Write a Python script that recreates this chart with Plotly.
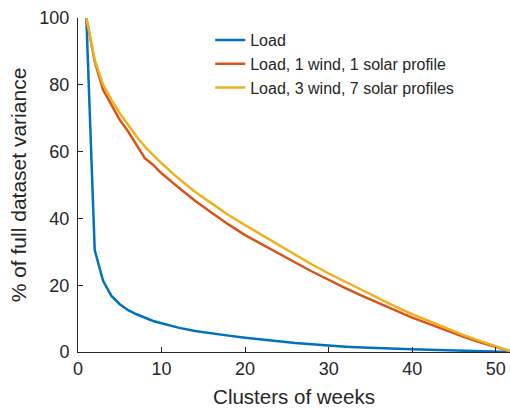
import plotly.graph_objects as go

x_vals = [1, 2, 3, 4, 5, 6, 7, 8, 9, 10, 12, 14, 16, 18, 20, 22, 24, 26, 28, 30,
          32, 34, 36, 38, 40, 42, 44, 46, 48, 50, 52]
load = [100, 30.5, 21.3, 16.8, 14.3, 12.5, 11.3, 10.3, 9.3, 8.6, 7.3, 6.3, 5.5, 4.9, 4.3,
        3.7, 3.2, 2.7, 2.3, 1.9, 1.6, 1.35, 1.1, 0.95, 0.8, 0.65, 0.5, 0.4, 0.3, 0.15, 0]
load_1w1s = [100, 87, 78.5, 74, 69.5, 66, 62, 58, 56, 53.5, 49.3, 45.3, 41.7, 38.2, 35,
             32.2, 29.5, 26.8, 24.1, 21.5, 19.1, 16.8, 14.6, 12.4, 10.3, 8.4, 6.5, 4.7, 3.0, 1.4, 0]
load_3w7s = [100, 87.5, 80, 75.5, 71.5, 68, 64.5, 61.5, 59, 56.5, 52, 48, 44.5, 41, 38,
             35, 32, 29, 26.2, 23.5, 21, 18.5, 16, 13.6, 11.3, 9.2, 7.1, 5.2, 3.4, 1.7, 0]

series_names = ["Load", "Load, 1 wind, 1 solar profile", "Load, 3 wind, 7 solar profiles"]
series_vals = [load, load_1w1s, load_3w7s]
colors = ["#0072BD", "#D95319", "#EDB120"]

x_ticks = [0, 10, 20, 30, 40, 50]
y_ticks = [0, 20, 40, 60, 80, 100]

fig = go.Figure()
for name, vals, c in zip(series_names, series_vals, colors):
    fig.add_trace(go.Scatter(x=x_vals, y=vals, mode="lines", name=name,
                             line=dict(color=c, width=2.5)))

axis_color = "#262626"
fig.update_layout(
    width=510, height=408,
    margin=dict(l=78, r=0, t=18, b=56, autoexpand=False),
    paper_bgcolor="white", plot_bgcolor="white",
    font=dict(family="Liberation Sans, Arial, sans-serif", color=axis_color, size=16),
    legend=dict(x=0.306, y=0.985, xanchor="left", yanchor="top",
                bgcolor="rgba(0,0,0,0)", font=dict(size=16), itemwidth=30,
                tracegroupgap=0),
    showlegend=True,
)
fig.update_xaxes(range=[0, 51.7], tickvals=x_ticks, ticks="inside", ticklen=5,
                 tickcolor=axis_color, showline=True, linecolor=axis_color, linewidth=1,
                 showgrid=False, zeroline=False, mirror=False, automargin=False,
                 title=dict(text="Clusters of weeks", font=dict(size=20.5)),
                 tickfont=dict(size=18))
fig.update_yaxes(range=[0, 100], tickvals=y_ticks, ticks="inside", ticklen=5,
                 tickcolor=axis_color, showline=True, linecolor=axis_color, linewidth=1,
                 showgrid=False, zeroline=False, mirror=False, automargin=True,
                 ticklabelstandoff=4,
                 title=dict(text="% of full dataset variance", font=dict(size=21), standoff=7),
                 tickfont=dict(size=18))

fig.write_html("out.html", config={"displayModeBar": False},
               post_script="document.body.style.margin='0';document.body.style.overflow='hidden';")
